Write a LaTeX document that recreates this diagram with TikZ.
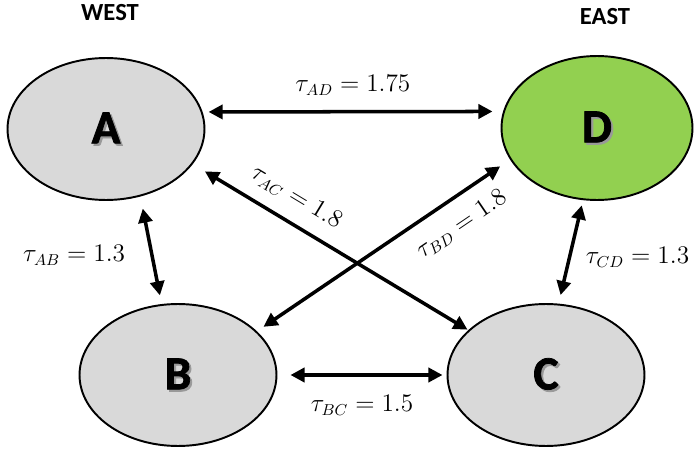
\documentclass[tikz,border=0pt]{standalone}
\usepackage{fontspec}
\setmainfont{Carlito}
\newfontfamily\heavyfont{Carlito}[BoldFeatures={FakeBold=1.6}]
\usepackage{amsmath}
\usetikzlibrary{shapes.geometric, arrows.meta}
\definecolor{stgray}{RGB}{217, 217, 217}
\definecolor{stgreen}{RGB}{146, 208, 80}
\newcommand{\dropletter}[1]{\rlap{\kern1.2pt\raisebox{-1.2pt}{\textcolor{black!40}{#1}}}#1}

\tikzset{
  station/.style={ellipse, draw=black, line width=1.1pt, fill=stgray, inner sep=0pt,
    minimum width=3.94cm, minimum height=2.84cm, font=\fontsize{27}{30}\selectfont\heavyfont\bfseries},
  link/.style={{Triangle[length=8pt,width=8pt]}-{Triangle[length=8pt,width=8pt]}, line width=2pt},
  tau/.style={font=\fontsize{13.5}{16}\selectfont},
  side/.style={font=\fontsize{14}{16}\selectfont\bfseries}
}

\begin{document}
\begin{tikzpicture}[x=0.02cm, y=-0.02cm]
  \useasboundingbox (0,0) rectangle (694,453);

  % regions
  \node[side] (west) at (110,13) {WEST};
  \node[side] (east) at (605,17) {EAST};

  % stations
  \node[station] (A) at (106,129) {\dropletter{A}};
  \node[station, fill=stgreen, minimum width=3.82cm, minimum height=2.88cm] (D) at (597,128) {\dropletter{D}};
  \node[station] (B) at (178,375) {\dropletter{B}};
  \node[station] (C) at (546,375) {\dropletter{C}};

  % links
  \draw[link, shorten <=3.4pt, shorten >=6pt] (A.10) -- node[tau, above=5pt] {$\tau_{AD} = 1.75$} (D.170);
  \draw[link, shorten <=7pt, shorten >=5pt] (A.-63) -- node[tau, pos=0.55, left=11pt] {$\tau_{AB} = 1.3$} (B.103);
  \draw[link, shorten <=3pt, shorten >=5pt] (D.-101) -- node[tau, pos=0.55, right=5pt] {$\tau_{CD} = 1.3$} (C.80);
  \draw[link, shorten <=7.4pt, shorten >=2.3pt] (B.east) -- node[tau, below=7pt] {$\tau_{BC} = 1.5$} (C.west);
  \draw[link, shorten <=8pt, shorten >=0.5pt] (A.-22.5) -- node[tau, pos=0.33, sloped, above=4pt] {$\tau_{AC} = 1.8$} (C.150);
  \draw[link, shorten <=4.5pt, shorten >=6.8pt] (B.29) -- node[tau, pos=0.75, sloped, below=5pt] {$\tau_{BD} = 1.8$} (D.200);
\end{tikzpicture}
\end{document}
